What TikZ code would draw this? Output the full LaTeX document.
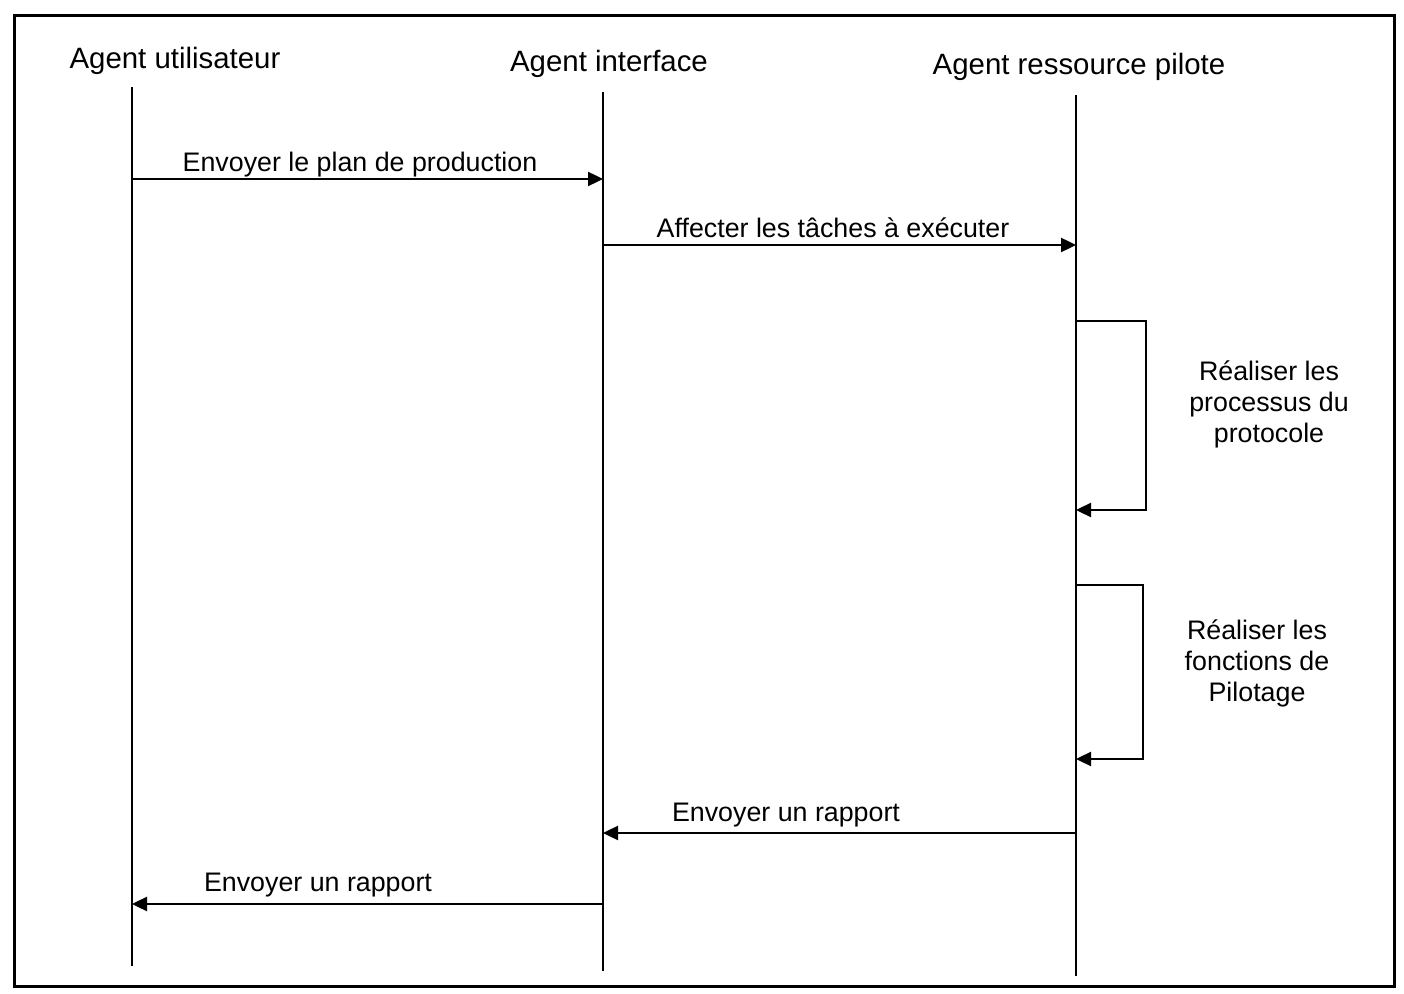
\documentclass[tikz,border=0pt]{standalone}
\usepackage{fontspec}
\setmainfont{Liberation Sans}
\usetikzlibrary{arrows.meta}
\begin{document}
\begin{tikzpicture}[x=0.5pt,y=-0.5pt,
  actor/.style={font=\fontsize{14.7}{17}\selectfont, anchor=base, inner sep=0pt},
  msglabel/.style={font=\fontsize{13.4}{15.5}\selectfont, anchor=base, inner sep=0pt},
  notelabel/.style={font=\fontsize{13.4}{15.5}\selectfont, align=center, inner sep=0pt},
  lifeline/.style={line width=1.4pt},
  msg/.style={line width=1.2pt, -{Triangle[length=7.5pt,width=7pt]}},
  loopline/.style={line width=1.2pt, -{Triangle[length=7.5pt,width=7pt]}},
  frame/.style={line width=1.5pt}]
  \useasboundingbox (0,0) rectangle (1404,994);
  % outer frame
  \draw[frame] (14,16) rectangle (1394,986);

  % participants
  \node[actor] (user) at (175,69) {Agent utilisateur};
  \node[actor] (iface) at (609,72) {Agent interface};
  \node[actor] (res) at (1079,75) {Agent ressource pilote};

  % lifelines
  \coordinate (userTop) at (132,87);   \coordinate (userBot) at (132,966);
  \coordinate (ifaceTop) at (603,92);  \coordinate (ifaceBot) at (603,971);
  \coordinate (resTop) at (1076,95);   \coordinate (resBot) at (1076,976);
  \draw[lifeline] (userTop) -- (userBot);
  \draw[lifeline] (ifaceTop) -- (ifaceBot);
  \draw[lifeline] (resTop) -- (resBot);

  % message ends on the lifelines
  \coordinate (m1a) at (132,179);  \coordinate (m1b) at (603,179);
  \coordinate (m2a) at (603,245);  \coordinate (m2b) at (1076,245);
  \coordinate (s1a) at (1076,321); \coordinate (s1c) at (1146,321);
  \coordinate (s1d) at (1146,510); \coordinate (s1b) at (1076,510);
  \coordinate (s2a) at (1076,585); \coordinate (s2c) at (1143,585);
  \coordinate (s2d) at (1143,759); \coordinate (s2b) at (1076,759);
  \coordinate (m5a) at (1076,833); \coordinate (m5b) at (603,833);
  \coordinate (m6a) at (603,904);  \coordinate (m6b) at (132,904);

  % messages
  \draw[msg] (m1a) -- (m1b);
  \node[msglabel] (l1) at (360,172) {Envoyer le plan de production};
  \draw[msg] (m2a) -- (m2b);
  \node[msglabel] (l2) at (833,238) {Affecter les tâches à exécuter};

  % self messages
  \draw[loopline] (s1a) -- (s1c) -- (s1d) -- (s1b);
  \node[notelabel] (n1) at (1269,404) {Réaliser les\\processus du\\protocole};
  \draw[loopline] (s2a) -- (s2c) -- (s2d) -- (s2b);
  \node[notelabel] (n2) at (1257,663) {Réaliser les\\fonctions de\\Pilotage};

  % replies
  \draw[msg] (m5a) -- (m5b);
  \node[msglabel] (l5) at (786,821) {Envoyer un rapport};
  \draw[msg] (m6a) -- (m6b);
  \node[msglabel] (l6) at (318,891) {Envoyer un rapport};
\end{tikzpicture}
\end{document}
